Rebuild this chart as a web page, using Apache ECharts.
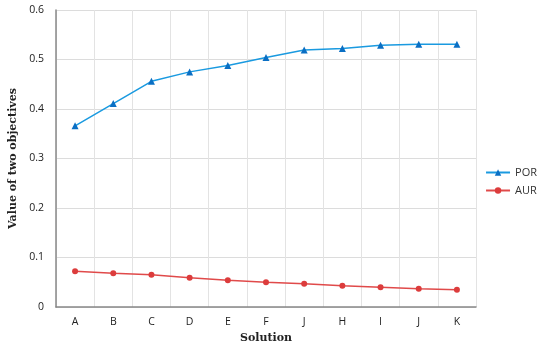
<!DOCTYPE html>
<html><head><meta charset="utf-8">
<script src="https://cdn.jsdelivr.net/npm/echarts@6/dist/echarts.min.js"></script>
<style>html,body{margin:0;padding:0;background:#fff}#c{width:550px;height:342px}</style>
</head><body><div id="c"></div>
<script>
const categories = ['A','B','C','D','E','F','J','H','I','J','K'];
const porValues = [0.366,0.411,0.456,0.475,0.488,0.504,0.519,0.522,0.529,0.531,0.531];
const aurValues = [0.072,0.068,0.065,0.059,0.054,0.050,0.047,0.043,0.040,0.037,0.035];
const yTicks = [0,0.1,0.2,0.3,0.4,0.5,0.6];

const chart = echarts.init(document.getElementById('c'), null, {renderer:'canvas'});
chart.setOption({
  animation:false,
  grid:{left:56,right:74,top:10,bottom:35,outerBoundsMode:'none',containLabel:false},
  legend:{
    orient:'vertical', right:8, top:162, itemGap:7, itemWidth:24, itemHeight:8,
    textStyle:{fontFamily:'Open Sans',fontSize:11,color:'#333'},
    data:[{name:'POR'},{name:'AUR'}]
  },
  xAxis:{
    type:'category', data:categories, boundaryGap:true,
    name:'Solution', nameLocation:'middle', nameGap:20,
    nameTextStyle:{fontFamily:'DejaVu Serif',fontWeight:'bold',fontSize:11,color:'#222'},
    axisLine:{lineStyle:{color:'#888',width:1.5}},
    axisTick:{show:false},
    axisLabel:{fontFamily:'Open Sans',fontSize:10.5,color:'#222',margin:10},
    splitLine:{show:true,lineStyle:{color:'#e3e3e3'}}
  },
  yAxis:{
    type:'value', min:0, max:0.6, interval:0.1,
    name:'Value of two objectives', nameLocation:'middle', nameGap:37,
    nameTextStyle:{fontFamily:'DejaVu Serif',fontWeight:'bold',fontSize:11,color:'#222'},
    axisLine:{show:true,lineStyle:{color:'#888',width:1.5}},
    axisTick:{show:false},
    axisLabel:{fontFamily:'Open Sans',fontSize:10.5,color:'#222',margin:12,
      formatter:function(v){return String(Math.round(v*10)/10);}},
    splitLine:{show:true,lineStyle:{color:'#dcdcdc'}}
  },
  series:[
    {name:'POR',type:'line',data:porValues,symbol:'triangle',symbolSize:7,
     lineStyle:{color:'#1a9ae0',width:1.5},itemStyle:{color:'#0a6fc4'}},
    {name:'AUR',type:'line',data:aurValues,symbol:'circle',symbolSize:6,
     lineStyle:{color:'#e04a4a',width:1.5},itemStyle:{color:'#dc3c3c'}}
  ]
});
</script></body></html>
